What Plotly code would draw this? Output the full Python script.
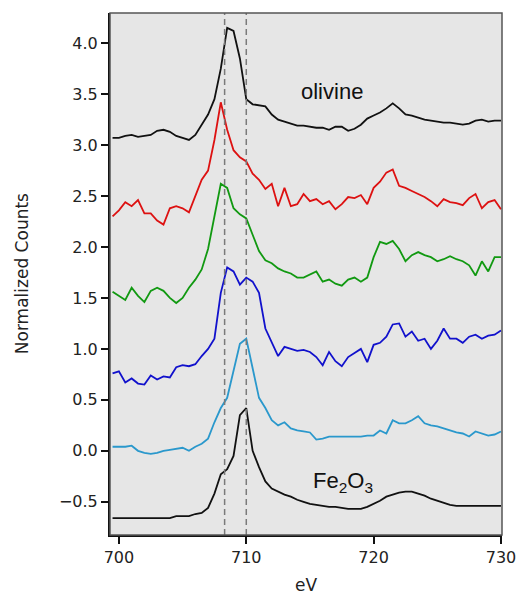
import numpy as np
import plotly.graph_objects as go

energy = np.arange(699.5, 730.01, 0.5)

olivine = [3.07, 3.07, 3.09, 3.10, 3.08, 3.09, 3.10, 3.14, 3.15, 3.13,
           3.09, 3.07, 3.05, 3.10, 3.20, 3.30, 3.45, 3.75, 4.15, 4.12,
           3.85, 3.45, 3.40, 3.39, 3.38, 3.30, 3.25, 3.23, 3.21, 3.19,
           3.19, 3.18, 3.17, 3.17, 3.15, 3.18, 3.18, 3.14, 3.16, 3.20,
           3.26, 3.29, 3.32, 3.36, 3.41, 3.36, 3.30, 3.29, 3.27, 3.25,
           3.24, 3.23, 3.22, 3.22, 3.21, 3.20, 3.21, 3.24, 3.25, 3.23,
           3.24, 3.24]

red = [2.30, 2.36, 2.44, 2.40, 2.46, 2.33, 2.33, 2.26, 2.22, 2.38,
       2.40, 2.38, 2.34, 2.50, 2.66, 2.75, 3.05, 3.42, 3.15, 2.95,
       2.88, 2.84, 2.72, 2.66, 2.57, 2.62, 2.40, 2.58, 2.40, 2.42,
       2.52, 2.45, 2.47, 2.42, 2.45, 2.37, 2.42, 2.49, 2.48, 2.51,
       2.42, 2.58, 2.64, 2.73, 2.76, 2.60, 2.58, 2.55, 2.52, 2.49,
       2.45, 2.40, 2.47, 2.44, 2.43, 2.41, 2.48, 2.52, 2.38, 2.44,
       2.46, 2.37]

green = [1.56, 1.52, 1.48, 1.60, 1.52, 1.46, 1.57, 1.60, 1.57, 1.50,
         1.45, 1.50, 1.60, 1.68, 1.78, 1.98, 2.32, 2.62, 2.58, 2.38,
         2.32, 2.28, 2.12, 1.96, 1.87, 1.84, 1.79, 1.76, 1.74, 1.70,
         1.70, 1.73, 1.76, 1.66, 1.68, 1.64, 1.62, 1.68, 1.70, 1.66,
         1.70, 1.90, 2.05, 2.03, 2.06, 1.98, 1.86, 1.92, 1.95, 1.92,
         1.90, 1.86, 1.88, 1.91, 1.88, 1.86, 1.82, 1.72, 1.86, 1.76,
         1.90, 1.90]

blue = [0.76, 0.78, 0.67, 0.71, 0.66, 0.65, 0.74, 0.70, 0.73, 0.72,
        0.82, 0.84, 0.83, 0.85, 0.93, 1.00, 1.10, 1.55, 1.80, 1.76,
        1.63, 1.70, 1.66, 1.55, 1.20, 1.06, 0.93, 1.02, 1.00, 0.98,
        0.99, 0.97, 0.92, 0.84, 0.97, 0.88, 0.83, 0.92, 0.96, 1.00,
        0.87, 1.04, 1.06, 1.12, 1.24, 1.25, 1.12, 1.17, 1.08, 1.10,
        1.00, 1.08, 1.20, 1.10, 1.10, 1.06, 1.12, 1.14, 1.10, 1.13,
        1.14, 1.18]

cyan = [0.04, 0.04, 0.04, 0.05, 0.00, -0.02, -0.03, -0.02, 0.00, 0.01,
        0.02, 0.03, 0.00, 0.04, 0.07, 0.12, 0.28, 0.42, 0.52, 0.78,
        1.05, 1.10, 0.80, 0.52, 0.42, 0.30, 0.25, 0.28, 0.22, 0.20,
        0.19, 0.18, 0.11, 0.12, 0.14, 0.14, 0.14, 0.14, 0.14, 0.14,
        0.15, 0.15, 0.20, 0.17, 0.30, 0.27, 0.27, 0.30, 0.34, 0.27,
        0.25, 0.24, 0.22, 0.20, 0.18, 0.17, 0.14, 0.19, 0.17, 0.15,
        0.16, 0.19]

fe2o3 = [-0.66, -0.66, -0.66, -0.66, -0.66, -0.66, -0.66, -0.66, -0.66, -0.66,
         -0.64, -0.64, -0.64, -0.62, -0.61, -0.56, -0.42, -0.23, -0.18, -0.05,
         0.35, 0.42, 0.00, -0.16, -0.30, -0.37, -0.40, -0.43, -0.45, -0.48,
         -0.50, -0.52, -0.53, -0.54, -0.55, -0.55, -0.56, -0.57, -0.57, -0.57,
         -0.55, -0.52, -0.49, -0.45, -0.43, -0.41, -0.40, -0.40, -0.42, -0.44,
         -0.47, -0.49, -0.51, -0.53, -0.54, -0.54, -0.54, -0.54, -0.54, -0.54,
         -0.54, -0.54]

series = [olivine, red, green, blue, cyan, fe2o3]
colors = ["#111111", "#dd1111", "#119911", "#1111cc", "#2a98cc", "#111111"]

ref_lines = [708.3, 710.0]
y_ticks = [-0.5, 0.0, 0.5, 1.0, 1.5, 2.0, 2.5, 3.0, 3.5, 4.0]
x_ticks = [700, 710, 720, 730]

fig = go.Figure()
for vals, col in zip(series, colors):
    fig.add_trace(go.Scatter(x=energy, y=vals, mode="lines",
                             line=dict(color=col, width=1.8), showlegend=False))

for xv in ref_lines:
    fig.add_shape(type="line", xref="x", yref="paper", x0=xv, x1=xv, y0=0, y1=1,
                  line=dict(color="#7a7a7a", width=1.5, dash="6px,4px"), layer="above")

fig.add_shape(type="rect", xref="paper", yref="paper", x0=0, x1=1, y0=0, y1=1,
              line=dict(color="#555555", width=1.5), layer="above")

fig.add_annotation(x=716.7, y=3.53, text="olivine", showarrow=False,
                   font=dict(family="Liberation Sans, Arial", size=22, color="#111111"))
fig.add_annotation(x=717.6, y=-0.31, text="Fe<sub>2</sub>O<sub>3</sub>", showarrow=False,
                   font=dict(family="Liberation Sans, Arial", size=22, color="#111111"))

fig.add_annotation(xref="paper", yref="paper", x=-0.224, y=0.5, text="Normalized Counts",
                   textangle=-90, showarrow=False, xanchor="center", yanchor="middle",
                   font=dict(family="DejaVu Sans", size=17, color="#222222"))
fig.add_annotation(xref="paper", yref="paper", x=0.5, y=-0.096, text="eV",
                   showarrow=False, xanchor="center", yanchor="middle",
                   font=dict(family="DejaVu Sans", size=17, color="#222222"))

fig.update_xaxes(range=[699.3, 730.08], tickvals=x_ticks, ticks="outside", ticklen=7,
                 tickwidth=1.5, tickcolor="#111111", showline=True, linecolor="#111111",
                 linewidth=2, showgrid=False, zeroline=False,
                 tickfont=dict(family="DejaVu Sans", size=16, color="#222222"))
fig.update_yaxes(range=[-0.826, 4.296], tickvals=y_ticks, tickformat=".1f", ticks="outside",
                 ticklen=7, tickwidth=1.5, tickcolor="#111111", showline=True,
                 linecolor="#111111", linewidth=2, showgrid=False, zeroline=False,
                 tickfont=dict(family="DejaVu Sans", size=16, color="#222222"))

fig.update_layout(width=528, height=594, margin=dict(l=110, r=16, t=13, b=59),
                  plot_bgcolor="#e6e6e6", paper_bgcolor="#ffffff")

fig.write_html("out.html")
